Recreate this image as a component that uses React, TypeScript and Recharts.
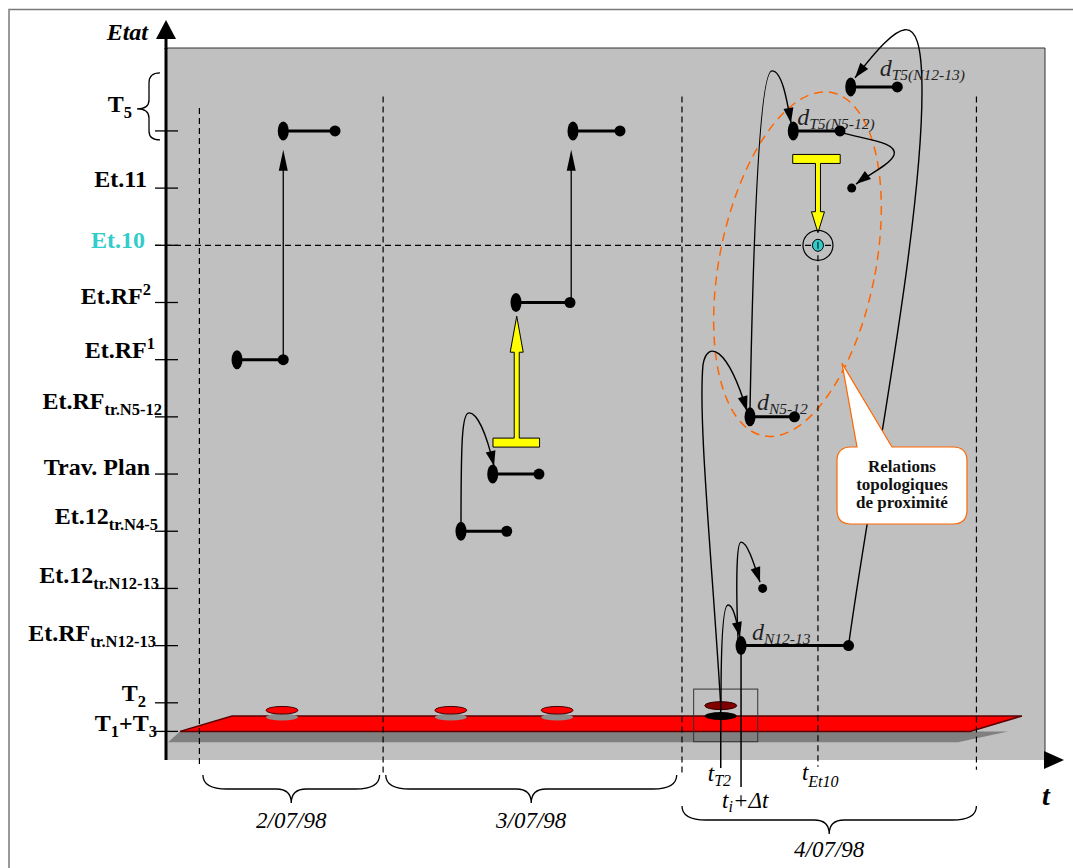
import React from 'react';
import {
  ComposedChart, Line, XAxis, YAxis, CartesianGrid,
  ReferenceLine, ReferenceDot, Customized
} from 'recharts';

const WIDTH = 1073;
const HEIGHT = 868;
const MARGIN = { top: 48, right: 28, bottom: 108, left: 16 };
const Y_AXIS_WIDTH = 150;
const PLOT_LEFT = MARGIN.left + Y_AXIS_WIDTH;
const PLOT_TOP = MARGIN.top;
const PLOT_W = WIDTH - PLOT_LEFT - MARGIN.right;
const PLOT_H = HEIGHT - MARGIN.top - MARGIN.bottom;
const PLOT_BOTTOM = PLOT_TOP + PLOT_H;
const X_DOMAIN = [0, 100];
const Y_DOMAIN = [-0.5, 11.95];

const SERIF = "'Liberation Serif', 'Times New Roman', serif";
const CYAN = '#33CCCC';
const ORANGE = '#FF6600';

type Pt = [number, number];
type Part = [string, '' | 'sub' | 'sup'];

// states (vertical axis)
const stateLevels = [0, 0.5, 1.5, 2.5, 3.5, 4.5, 5.5, 6.5, 7.5, 8.5, 9.5, 10.5];
const stateLabels: Part[][] = [
  [['T', ''], ['1', 'sub'], ['+T', ''], ['3', 'sub']],
  [['T', ''], ['2', 'sub']],
  [['Et.RF', ''], ['tr.N12-13', 'sub']],
  [['Et.12', ''], ['tr.N12-13', 'sub']],
  [['Et.12', ''], ['tr.N4-5', 'sub']],
  [['Trav. Plan', '']],
  [['Et.RF', ''], ['tr.N5-12', 'sub']],
  [['Et.RF', ''], ['1', 'sup']],
  [['Et.RF', ''], ['2', 'sup']],
  [['Et.10', '']],
  [['Et.11', '']],
  [['T', ''], ['5', 'sub']],
];
const tickEndDx = [-9, -20, -10, -7, -8, -16, -4, -11, -15, -21, -19, -34];
const tickDy = [0, -2, -5, -5, -7, 1, -8, -2, 2, 3, -1, -19];

// state durations: level, start, end (time units)
const segLevel = [6.5, 10.5, 3.5, 4.5, 7.5, 10.5, 1.5, 5.5, 10.5, 11.27];
const segStart = [8.08, 13.34, 33.56, 37.17, 39.82, 46.3, 65.42, 66.44, 71.36, 77.9];
const segEnd = [13.34, 19.23, 38.76, 42.43, 45.96, 51.65, 77.65, 71.5, 76.68, 83.2];

// named durations d_xxx
const durSeg = [6, 7, 8, 9];
const durSub = ['N12-13', 'N5-12', 'T5(N5-12)', 'T5(N12-13)'];
const durDx = [11, 7, 4, 29];
const durDy = [-6, -7, -6, -11];

// single states
const et11Point: Pt = [78.01, 9.5];
const et12Point: Pt = [67.88, 2.5];
const et10Point: Pt = [74.17, 8.5];

// state jumps (thin arrows)
const jumpT = [13.34, 46.1];
const jumpFrom = [6.5, 7.5];
const jumpTo = [10.17, 10.17];

// actions (yellow T arrows)
const actionT = [39.9, 74.17];
const actionFrom = [5.05, 10.01];
const actionTo = [7.26, 8.72];
const actionBarStart = [37.2, 71.3];
const actionBarEnd = [42.5, 76.7];
const actionHeadLen = [36, 21];

// day limits
const dayBounds = [3.8, 24.7, 58.7, 92.2];
const dayBoundTop = [10.9, 11.1, 11.1, 11.1];
const dayBoundBottom = [-0.64, -0.76, -0.73, -0.67];
const dayLabels = ['2/07/98', '3/07/98', '4/07/98'];
const dayStart = [4.2, 25.0, 58.7];
const dayEnd = [24.3, 58.1, 92.2];

// time marks
const tT2 = 63.11;
const tDelta = 65.42;
const tEt10 = 74.17;

// platform (T1+T3) and events on it
const platTopX = [7.51, 97.38];
const platBottomX = [1.59, 91.47];
const shadowTopX = [1.59, 95.79];
const shadowBottomX = [0.23, 90.1];
const platTop = 0.27;
const platBottom = 0;
const shadowBottom = -0.19;
const platEvents = [13.2, 32.4, 44.5];
const boxT = [60.03, 67.32];
const boxLevel = [0.74, -0.18];

// transitions (cubic curves with arrow)
const arrowCurves: Pt[][] = [
  [[33.56, 3.5], [33.56, 5.09], [33.67, 5.57], [34.47, 5.57], [35.38, 5.57], [36.41, 5.23], [37.32, 4.64]],
  [[77.65, 1.5], [79.86, 4.04], [86.23, 8.94], [86.0, 11.31], [85.89, 12.7], [83.5, 12.44], [78.39, 11.43]],
  [[63.11, 0.46], [62.12, 2.99], [60.52, 5.44], [61.09, 6.41], [61.55, 6.84], [63.82, 6.76], [66.1, 5.6]],
  [[66.44, 5.62], [66.78, 8.42], [67.46, 11.55], [68.94, 11.55], [70.08, 11.55], [70.65, 11.04], [71.1, 10.64]],
  [[76.79, 10.47], [80.09, 10.34], [83.28, 10.29], [82.82, 10.08], [82.37, 9.91], [79.86, 9.73], [78.5, 9.57]],
  [[63.14, 0.51], [63.14, 1.59], [63.37, 2.21], [63.94, 2.21], [64.51, 2.21], [64.85, 1.98], [65.3, 1.65]],
  [[65.08, 1.59], [64.85, 2.47], [64.85, 3.31], [65.42, 3.31], [66.1, 3.31], [66.78, 2.99], [67.58, 2.61]],
];

// proximity zone + callout
const zoneCenter: Pt = [71.84, 8.17];
const calloutCenter: Pt = [83.73, 4.3];
const calloutTip: Pt = [76.9, 6.44];
const calloutLines = ['Relations', 'topologiques', 'de proximité'];

const sx = (t: number) => PLOT_LEFT + ((t - X_DOMAIN[0]) / (X_DOMAIN[1] - X_DOMAIN[0])) * PLOT_W;
const sy = (v: number) => PLOT_TOP + ((Y_DOMAIN[1] - v) / (Y_DOMAIN[1] - Y_DOMAIN[0])) * PLOT_H;

const arrowHead = (from: [number, number], tip: [number, number], len = 15, half = 5) => {
  const dx = tip[0] - from[0];
  const dy = tip[1] - from[1];
  const d = Math.hypot(dx, dy) || 1;
  const ux = dx / d, uy = dy / d;
  const bx = tip[0] - ux * len, by = tip[1] - uy * len;
  return `${tip[0]},${tip[1]} ${bx - uy * half},${by + ux * half} ${bx + uy * half},${by - ux * half}`;
};

const StateTick = ({ y, payload }: any) => {
  const i = stateLevels.indexOf(payload.value);
  if (i < 0) return null;
  let shift = 0;
  const spans = stateLabels[i].map(([txt, kind], k) => {
    const target = kind === 'sub' ? 6 : kind === 'sup' ? -9 : 0;
    const dy = target - shift;
    shift = target;
    return <tspan key={k} dy={dy} fontSize={kind ? 16.5 : 24}>{txt}</tspan>;
  });
  return (
    <g>
      <line x1={PLOT_LEFT - 11} x2={PLOT_LEFT + 12} y1={y} y2={y} stroke="#000" strokeWidth={1.3} />
      <text x={PLOT_LEFT + tickEndDx[i]} y={y + tickDy[i]} textAnchor="end" fontFamily={SERIF}
        fontWeight="bold" fill={i === 9 ? CYAN : '#000'}>{spans}</text>
      {i === 11 && (
        <path fill="none" stroke="#000" strokeWidth={1.3}
          d={`M${PLOT_LEFT - 6},${y - 58} Q${PLOT_LEFT - 17},${y - 58} ${PLOT_LEFT - 17},${y - 48} L${PLOT_LEFT - 17},${y - 31} Q${PLOT_LEFT - 17},${y - 22} ${PLOT_LEFT - 29},${y - 22} Q${PLOT_LEFT - 17},${y - 22} ${PLOT_LEFT - 17},${y - 13} L${PLOT_LEFT - 17},${y} Q${PLOT_LEFT - 17},${y + 9} ${PLOT_LEFT - 6},${y + 9}`} />
      )}
    </g>
  );
};

const renderStateDot = (p: any) => {
  const { cx, cy, index } = p;
  if (index === 0) return <ellipse key={`a${cx}-${cy}`} cx={cx} cy={cy} rx={5.5} ry={9.5} fill="#000" />;
  return <circle key={`b${cx}-${cy}`} cx={cx} cy={cy} r={5.5} fill="#000" />;
};

const brace = (x1: number, x2: number, y0: number, yh: number, yt: number) => {
  const xm = (x1 + x2) / 2;
  return `M${x1},${y0} Q${x1},${yh} ${x1 + 24},${yh} L${xm - 15},${yh} Q${xm},${yh} ${xm},${yt} Q${xm},${yh} ${xm + 15},${yh} L${x2 - 24},${yh} Q${x2},${yh} ${x2},${y0}`;
};

const Underlay = () => {
  const b = PLOT_BOTTOM;
  return (
    <g>
      {/* frame */}
      <rect x={9} y={9.5} width={1200} height={1000} fill="none" stroke="#7a7a7a" strokeWidth={1.5} />
      {/* plot border top / right */}
      <path d={`M${PLOT_LEFT},${PLOT_TOP} L${PLOT_LEFT + PLOT_W},${PLOT_TOP} L${PLOT_LEFT + PLOT_W},${b}`} fill="none" stroke="#333" strokeWidth={1} />
      {/* platform shadow and platform */}
      <polygon fill="#808080"
        points={`${sx(shadowTopX[0])},${sy(platBottom)} ${sx(shadowTopX[1])},${sy(platBottom)} ${sx(shadowBottomX[1])},${sy(shadowBottom)} ${sx(shadowBottomX[0])},${sy(shadowBottom)}`} />
      <polygon fill="#FF0000" stroke="#5a0000" strokeWidth={1.5}
        points={`${sx(platTopX[0])},${sy(platTop)} ${sx(platTopX[1])},${sy(platTop)} ${sx(platBottomX[1])},${sy(platBottom)} ${sx(platBottomX[0])},${sy(platBottom)}`} />
      {platEvents.map((t, i) => (
        <g key={i}>
          <ellipse cx={sx(t)} cy={sy(0.25)} rx={16} ry={3.5} fill="#8c8c8c" />
          <ellipse cx={sx(t)} cy={sy(0.37)} rx={16} ry={3.8} fill="#FF0000" stroke="#400" strokeWidth={1} />
        </g>
      ))}
      <ellipse cx={sx(tT2)} cy={sy(0.27)} rx={16} ry={4} fill="#000" />
      <ellipse cx={sx(tT2)} cy={sy(0.45)} rx={16} ry={4} fill="#800000" stroke="#300" strokeWidth={1} />
      <rect x={sx(boxT[0])} y={sy(boxLevel[0])} width={sx(boxT[1]) - sx(boxT[0])}
        height={sy(boxLevel[1]) - sy(boxLevel[0])} fill="none" stroke="#333" strokeWidth={1} />
      {/* time marks */}
      <line x1={sx(tT2)} x2={sx(tT2)} y1={sy(0.46)} y2={b + 8} stroke="#000" strokeWidth={1.5} />
      <line x1={sx(tDelta)} x2={sx(tDelta)} y1={sy(1.5)} y2={b + 27} stroke="#000" strokeWidth={1.5} />
      {/* proximity zone */}
      <ellipse cx={sx(zoneCenter[0])} cy={sy(zoneCenter[1])} rx={78} ry={175} fill="none" stroke={ORANGE}
        strokeWidth={1.5} strokeDasharray="9 6"
        transform={`rotate(11.3 ${sx(zoneCenter[0])} ${sy(zoneCenter[1])})`} />
      {/* axis arrows */}
      <line x1={PLOT_LEFT} x2={PLOT_LEFT} y1={PLOT_TOP + 1} y2={PLOT_TOP - 12} stroke="#000" strokeWidth={3} />
      <polygon points={`${PLOT_LEFT},${PLOT_TOP - 28} ${PLOT_LEFT - 10},${PLOT_TOP - 9} ${PLOT_LEFT + 10},${PLOT_TOP - 9}`} fill="#000" />
      <polygon points={`${PLOT_LEFT + PLOT_W + 19},${b} ${PLOT_LEFT + PLOT_W - 1},${b - 9} ${PLOT_LEFT + PLOT_W - 1},${b + 9}`} fill="#000" />
      <text x={PLOT_LEFT - 18} y={PLOT_TOP - 8} textAnchor="end" fontFamily={SERIF} fontWeight="bold"
        fontStyle="italic" fontSize={24}>Etat</text>
      <text x={PLOT_LEFT + PLOT_W - 3} y={b + 45} fontFamily={SERIF} fontWeight="bold" fontStyle="italic"
        fontSize={28}>t</text>
      {/* days */}
      {dayLabels.map((lab, i) => {
        const low = i === 2 ? 31 : 0;
        const x1 = sx(dayStart[i]);
        const x2 = sx(dayEnd[i]);
        return (
          <g key={lab}>
            <path d={brace(x1, x2, b + 15 + low, b + 29 + low, b + 43 + low)} fill="none" stroke="#000" strokeWidth={1.3} />
            <text x={(x1 + x2) / 2} y={b + 68 + low - (i === 2 ? 2 : 0)} textAnchor="middle" fontFamily={SERIF}
              fontStyle="italic" fontSize={23}>{lab}</text>
          </g>
        );
      })}
      {/* time labels */}
      <text x={sx(tT2) - 13} y={b + 21} fontFamily={SERIF} fontStyle="italic" fontSize={23}>
        t<tspan dy={5} fontSize={16}>T2</tspan>
      </text>
      <text x={sx(tDelta) - 19} y={b + 48} fontFamily={SERIF} fontStyle="italic" fontSize={23}>
        t<tspan dy={4} fontSize={16}>i</tspan><tspan dy={-4}>+Δt</tspan>
      </text>
      <text x={sx(tEt10) - 16} y={b + 20} fontFamily={SERIF} fontStyle="italic" fontSize={23}>
        t<tspan dy={7} fontSize={16}>Et10</tspan>
      </text>
    </g>
  );
};

const Overlay = () => {
  const cx = sx(calloutCenter[0]);
  const cy = sy(calloutCenter[1]);
  const x0 = cx - 65, x1 = cx + 65, y0 = cy - 38.5, y1 = cy + 38.5, r = 14;
  const tx = sx(calloutTip[0]), ty = sy(calloutTip[1]);
  return (
    <g>
      {/* state jumps */}
      {jumpT.map((t, i) => {
        const x = sx(t), yA = sy(jumpFrom[i]), yB = sy(jumpTo[i]);
        return (
          <g key={i}>
            <line x1={x} x2={x} y1={yA} y2={yB + 10} stroke="#000" strokeWidth={1.3} />
            <polygon points={arrowHead([x, yA], [x, yB], 21, 4.5)} fill="#000" />
          </g>
        );
      })}
      {/* actions */}
      {actionT.map((t, i) => {
        const x = sx(t);
        const barY = sy(actionFrom[i]);
        const tipY = sy(actionTo[i]);
        const d = tipY > barY ? 1 : -1;
        const bh = 4.5, sw = 2.5, hw = 6.5;
        const hb = tipY - d * actionHeadLen[i];
        const bx1 = sx(actionBarStart[i]), bx2 = sx(actionBarEnd[i]);
        const pts = [
          [bx1, barY - d * bh], [bx2, barY - d * bh], [bx2, barY + d * bh], [x + sw, barY + d * bh],
          [x + sw, hb], [x + hw, hb], [x, tipY], [x - hw, hb], [x - sw, hb], [x - sw, barY + d * bh],
          [bx1, barY + d * bh],
        ].map((p) => p.join(',')).join(' ');
        return <polygon key={i} points={pts} fill="#FFFF00" stroke="#000" strokeWidth={1} />;
      })}
      {/* transitions */}
      {arrowCurves.map((c, i) => {
        const p = c.map(([t, v]) => [sx(t), sy(v)] as [number, number]);
        const path = `M${p[0]} C${p[1]} ${p[2]} ${p[3]} C${p[4]} ${p[5]} ${p[6]}`;
        return (
          <g key={i}>
            <path d={path} fill="none" stroke="#000" strokeWidth={1.4} />
            <polygon points={arrowHead(p[5], p[6], 15, 5)} fill="#000" />
          </g>
        );
      })}
      {/* duration labels */}
      {durSeg.map((s, i) => (
        <text key={i} x={sx(segStart[s]) + durDx[i]} y={sy(segLevel[s]) + durDy[i]} fontFamily={SERIF}
          fontStyle="italic" fontSize={24} fill="#222">
          d<tspan dy={4} fontSize={15.5}>{durSub[i]}</tspan>
        </text>
      ))}
      {/* callout */}
      <path fill="#fff" stroke={ORANGE} strokeWidth={1.2}
        d={`M${x0 + r},${y0} L${x0 + 20},${y0} L${tx},${ty} L${x0 + 55},${y0} L${x1 - r},${y0} Q${x1},${y0} ${x1},${y0 + r} L${x1},${y1 - r} Q${x1},${y1} ${x1 - r},${y1} L${x0 + r},${y1} Q${x0},${y1} ${x0},${y1 - r} L${x0},${y0 + r} Q${x0},${y0} ${x0 + r},${y0} Z`} />
      {calloutLines.map((l, i) => (
        <text key={l} x={cx} y={y0 + 25 + i * 18} textAnchor="middle" fontFamily={SERIF} fontWeight="bold"
          fontSize={17} fill="#111">{l}</text>
      ))}
    </g>
  );
};

const Et10Marker = (p: any) => (
  <g>
    <circle cx={p.cx} cy={p.cy} r={15} fill="none" stroke="#000" strokeWidth={1.2} />
    <ellipse cx={p.cx} cy={p.cy} rx={5.5} ry={6} fill={CYAN} stroke="#000" strokeWidth={1} />
    <line x1={p.cx} x2={p.cx} y1={p.cy - 3.5} y2={p.cy + 3.5} stroke="#000" strokeWidth={1} />
  </g>
);

const App: React.FC = () => {
  return (
    <div style={{ position: 'absolute', left: 0, top: 0, width: WIDTH, height: HEIGHT, background: '#fff' }}>
      <ComposedChart width={WIDTH} height={HEIGHT} margin={MARGIN}>
        <CartesianGrid horizontal={false} vertical={false} fill="#C0C0C0" fillOpacity={1} />
        <XAxis type="number" dataKey="t" domain={X_DOMAIN} allowDataOverflow height={0} tick={false}
          tickLine={false} axisLine={{ stroke: '#000', strokeWidth: 3 }} />
        <YAxis type="number" domain={Y_DOMAIN} allowDataOverflow ticks={stateLevels} interval={0}
          width={Y_AXIS_WIDTH} tick={<StateTick />} tickLine={false}
          axisLine={{ stroke: '#000', strokeWidth: 3 }} />
        <Customized component={Underlay} />
        {dayBounds.map((t, i) => (
          <ReferenceLine key={`d${i}`} ifOverflow="visible" stroke="#000" strokeWidth={1.2} strokeDasharray="6 4"
            segment={[{ x: t, y: dayBoundTop[i] }, { x: t, y: dayBoundBottom[i] }]} />
        ))}
        <ReferenceLine ifOverflow="visible" stroke="#000" strokeWidth={1.2} strokeDasharray="6 4"
          segment={[{ x: tEt10, y: et10Point[1] }, { x: tEt10, y: -0.62 }]} />
        <ReferenceLine ifOverflow="visible" stroke="#000" strokeWidth={1.2} strokeDasharray="6 4"
          segment={[{ x: -1.25, y: et10Point[1] }, { x: 76.1, y: et10Point[1] }]} />
        {segLevel.map((lv, i) => (
          <Line key={`s${i}`} data={[{ t: segStart[i], v: lv }, { t: segEnd[i], v: lv }]} dataKey="v"
            stroke="#000" strokeWidth={3} dot={renderStateDot} activeDot={false}
            isAnimationActive={false} legendType="none" />
        ))}
        <ReferenceDot x={et11Point[0]} y={et11Point[1]} r={4.5} fill="#000" stroke="none" ifOverflow="visible" />
        <ReferenceDot x={et12Point[0]} y={et12Point[1]} r={4.5} fill="#000" stroke="none" ifOverflow="visible" />
        <ReferenceDot x={et10Point[0]} y={et10Point[1]} r={15} shape={Et10Marker} ifOverflow="visible" />
        <Customized component={Overlay} />
      </ComposedChart>
    </div>
  );
};

export default App;
